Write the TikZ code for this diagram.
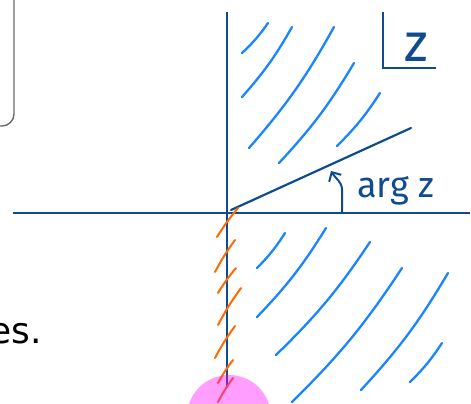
\documentclass[tikz,border=0pt]{standalone}
\usepackage{fontspec}
\setsansfont{DejaVu Sans}
\newfontfamily\handfont{Fira Sans}
\usetikzlibrary{arrows.meta}
\definecolor{ZAxis}{HTML}{0F4C8F}
\definecolor{ZHatch}{HTML}{1A85FF}
\definecolor{ZCut}{HTML}{FF6A00}
\definecolor{ZFrame}{HTML}{6B6B6B}
\definecolor{ZPole}{HTML}{FF00FF}

\begin{document}
\begin{tikzpicture}[
  x=1pt, y=-1pt,
  axis/.style={draw=ZAxis, line width=2.4pt},
  hatch/.style={draw=ZHatch, line width=2.3pt, line cap=round},
  cut/.style={draw=ZCut, line width=2pt, line cap=round},
  hand/.style={text=ZAxis, inner sep=0pt,
               font=\handfont\fontsize{36}{40}\selectfont},
  turn/.style={draw=ZAxis, line width=2pt,
               -{Straight Barb[length=7pt,width=14pt,line width=2pt]}},
]
\useasboundingbox (0,0) rectangle (471,404);

% ── frame of the note box on the left ────────────────────────────────────
\draw[draw=ZFrame, line width=1.4pt, rounded corners=12pt]
  (14,-5) -- (14,126) -- (-5,126);

% ── shaded region: blue hatching right of the cut ────────────────────────
\foreach \ax/\ay/\bx/\by in {242/53/268/23, 242/97/292/27, 249/148/334/27,
                             279/163/354/63, 337/146/380/93,
                             257/268/285/233, 257/317/326/228, 276/355/370/242,
                             292/402/402/268, 361/390/448/273, 410/382/442/343}
  \draw[hatch] (\ax,\ay) to[bend right=6] (\bx,\by);

% ── axes and the ray of arg z ────────────────────────────────────────────
\coordinate (O)    at (227,213);
\coordinate (yTop) at (227,12);
\coordinate (yBot) at (227,388);
\coordinate (xL)   at (13,213);
\coordinate (xR)   at (470,213);
\coordinate (rayO) at (231,210);
\coordinate (rayE) at (411,128);

\draw[axis] (yTop) -- (yBot);
\draw[axis] (xL) -- (xR);
\draw[axis, line width=2.2pt, line cap=round] (rayO) -- (rayE);

% angle arrow
\coordinate (angS) at (342,213);
\coordinate (angM) at (342,190);
\coordinate (angE) at (331,171);
\draw[turn] (angS) -- (angM) to[out=90, in=-60] (angE);
\node[hand, anchor=base west] (arg) at (357,197) {arg z};

% ── branch cut along the negative imaginary axis ─────────────────────────
\foreach \ax/\ay/\bx/\by in {217/237/238/208, 215/272/235/240, 218/293/236/268,
                             218/325/241/288, 215/358/235/326, 218/383/233/360,
                             218/402/233/378}
  \draw[cut] (\ax,\ay) to[bend left=4] (\bx,\by);

% pole at the bottom
\fill[ZPole, opacity=0.38] (229,417) circle[radius=42pt];

% ── plane label in the corner ────────────────────────────────────────────
\coordinate (lblTop) at (383,12);
\coordinate (lblCor) at (383,68);
\coordinate (lblEnd) at (436,68);
\draw[axis, line width=2.2pt] (lblTop) -- (lblCor) -- (lblEnd);
\node[hand, font=\handfont\fontsize{54}{56}\selectfont, anchor=base]
  (zname) at (416,62) {z};

% ── text cut off at the left ─────────────────────────────────────────────
\node[inner sep=0pt, anchor=base east, font=\sffamily\fontsize{36}{40}\selectfont]
  (tail) at (42,343) {es.};

\end{tikzpicture}
\end{document}
